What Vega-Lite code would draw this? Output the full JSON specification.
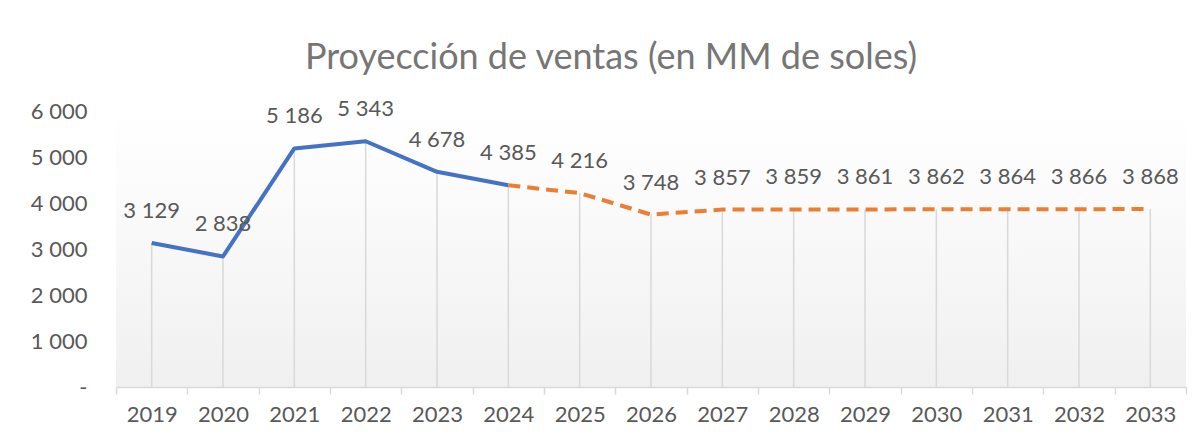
{
  "$schema": "https://vega.github.io/schema/vega-lite/v6.json",
  "width": 1070,
  "height": 276,
  "autosize": "none",
  "padding": {"left": 116, "top": 111, "right": 18, "bottom": 56},
  "background": "#ffffff",
  "title": {
    "text": "Proyección de ventas (en MM de soles)",
    "font": "Lato",
    "fontSize": 36,
    "fontWeight": "normal",
    "color": "#767676",
    "anchor": "middle",
    "dx": -40,
    "dy": 48,
    "baseline": "alphabetic",
    "offset": 41
  },
  "datasets": {
    "ventas": [
      {"year": 2019, "value": 3129, "serie": "Real"},
      {"year": 2020, "value": 2838, "serie": "Real"},
      {"year": 2021, "value": 5186, "serie": "Real"},
      {"year": 2022, "value": 5343, "serie": "Real"},
      {"year": 2023, "value": 4678, "serie": "Real"},
      {"year": 2024, "value": 4385, "serie": "Real"},
      {"year": 2025, "value": 4216, "serie": "Proyección"},
      {"year": 2026, "value": 3748, "serie": "Proyección"},
      {"year": 2027, "value": 3857, "serie": "Proyección"},
      {"year": 2028, "value": 3859, "serie": "Proyección"},
      {"year": 2029, "value": 3861, "serie": "Proyección"},
      {"year": 2030, "value": 3862, "serie": "Proyección"},
      {"year": 2031, "value": 3864, "serie": "Proyección"},
      {"year": 2032, "value": 3866, "serie": "Proyección"},
      {"year": 2033, "value": 3868, "serie": "Proyección"}
    ],
    "proy": [
      {"year": 2024, "value": 4385},
      {"year": 2025, "value": 4216},
      {"year": 2026, "value": 3748},
      {"year": 2027, "value": 3857},
      {"year": 2028, "value": 3859},
      {"year": 2029, "value": 3861},
      {"year": 2030, "value": 3862},
      {"year": 2031, "value": 3864},
      {"year": 2032, "value": 3866},
      {"year": 2033, "value": 3868}
    ]
  },
  "layer": [
    {
      "data": {"name": "ventas"},
      "mark": {"type": "rule", "color": "#d9d9d9", "strokeWidth": 1.5},
      "encoding": {
        "x": {
          "field": "year",
          "type": "quantitative",
          "scale": {"domain": [2018.5, 2033.5], "nice": false, "zero": false},
          "axis": {
            "orient": "bottom",
            "values": [2018.5, 2019.5, 2020.5, 2021.5, 2022.5, 2023.5, 2024.5, 2025.5, 2026.5, 2027.5, 2028.5, 2029.5, 2030.5, 2031.5, 2032.5, 2033.5],
            "labels": false,
            "grid": false,
            "ticks": true,
            "tickSize": 7,
            "tickColor": "#d9d9d9",
            "tickWidth": 1.5,
            "domain": true,
            "domainColor": "#d9d9d9",
            "domainWidth": 1.5,
            "title": null
          }
        },
        "y": {
          "field": "value",
          "type": "quantitative",
          "scale": {"domain": [0, 6000], "nice": false},
          "axis": {
            "values": [0, 1000, 2000, 3000, 4000, 5000, 6000],
            "labelExpr": "datum.value == 0 ? '-\u00a0\u00a0\u00a0' : replace(format(datum.value, ','), ',', ' ')",
            "labelFont": "Lato",
            "labelFontSize": 22,
            "labelColor": "#595959",
            "labelPadding": 29,
            "ticks": false,
            "domain": false,
            "grid": false,
            "title": null
          }
        },
        "y2": {"datum": 0}
      }
    },
    {
      "data": {"name": "ventas"},
      "transform": [{"filter": "datum.serie == 'Real'"}],
      "mark": {"type": "line", "color": "#4472c4", "strokeWidth": 4, "strokeJoin": "round"},
      "encoding": {
        "x": {"field": "year", "type": "quantitative", "axis": null},
        "y": {"field": "value", "type": "quantitative"}
      }
    },
    {
      "data": {"name": "proy"},
      "mark": {"type": "line", "color": "#ed7d31", "strokeWidth": 4, "strokeDash": [12, 7]},
      "encoding": {
        "x": {"field": "year", "type": "quantitative", "axis": null},
        "y": {"field": "value", "type": "quantitative"}
      }
    },
    {
      "data": {"name": "ventas"},
      "mark": {"type": "text", "font": "Lato", "fontSize": 22, "color": "#595959", "baseline": "middle", "dy": -32},
      "encoding": {
        "x": {"field": "year", "type": "quantitative", "axis": null},
        "y": {"field": "value", "type": "quantitative"},
        "text": {"field": "value", "type": "quantitative", "format": ","}
      }
    },
    {
      "data": {"name": "ventas"},
      "mark": {"type": "rule", "opacity": 0},
      "encoding": {
        "x": {
          "field": "year",
          "type": "quantitative",
          "axis": {
            "orient": "bottom",
            "values": [2019, 2020, 2021, 2022, 2023, 2024, 2025, 2026, 2027, 2028, 2029, 2030, 2031, 2032, 2033],
            "labelExpr": "'' + datum.value",
            "labelFont": "Lato",
            "labelFontSize": 22,
            "labelColor": "#595959",
            "labelBaseline": "top",
            "labelPadding": 17,
            "ticks": false,
            "tickSize": 0,
            "domain": false,
            "grid": false,
            "title": null
          }
        }
      }
    }
  ],
  "resolve": {"axis": {"x": "independent"}},
  "config": {
    "locale": {"number": {"decimal": ".", "thousands": " ", "grouping": [3], "currency": ["", ""]}},
    "view": {
      "stroke": null,
      "fill": {"gradient": "linear", "x1": 0, "y1": 0, "x2": 0, "y2": 1, "stops": [{"offset": 0, "color": "#ffffff"}, {"offset": 0.3, "color": "#fbfbfb"}, {"offset": 1, "color": "#f0f0f0"}]}
    }
  }
}
